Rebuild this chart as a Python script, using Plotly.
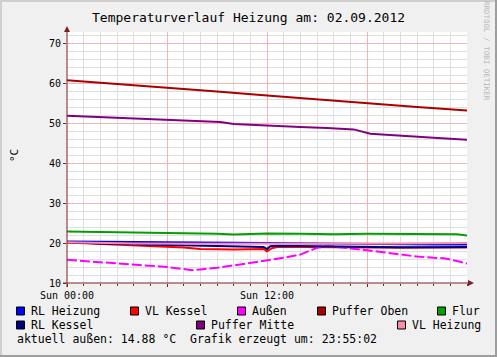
import plotly.graph_objects as go

# ---------------- data (hours since Sun 00:00) ----------------
title_text = "Temperaturverlauf Heizung am: 02.09.2012"
x_tickvals = [0, 6, 12, 18]
x_ticktext = ["Sun 00:00", "", "Sun 12:00", ""]
y_tickvals = [10, 20, 30, 40, 50, 60, 70]

rl_heizung_h = [0, 2, 4, 6, 8, 10, 12, 14, 16, 18, 20, 22, 24]
rl_heizung = [20.4, 20.3, 20.2, 20.1, 20.1, 20.05, 20.0, 19.9, 19.85, 19.75, 19.7, 19.65, 19.6]

vl_kessel_h = [0, 2, 4, 6, 7, 8, 10, 11.8, 12.0, 12.3, 12.6, 14, 16, 18, 20, 22, 24]
vl_kessel = [20.1, 19.8, 19.5, 19.2, 18.9, 18.5, 18.4, 18.5, 17.9, 18.7, 19.0, 19.0, 18.9, 18.8, 18.8, 18.9, 18.9]

aussen_h = [0, 1, 2, 3, 4, 5, 6, 7, 7.5, 8, 9, 10, 11, 12, 13, 14, 14.5, 15, 15.5, 16,
            16.5, 17, 18, 19, 20, 21, 22, 22.6, 23.4, 24]
aussen = [15.8, 15.5, 15.2, 14.9, 14.6, 14.3, 14.0, 13.5, 13.2, 13.4, 13.8, 14.4, 15.0, 15.7,
          16.3, 17.1, 18.0, 18.8, 19.1, 19.1, 18.9, 18.6, 18.2, 17.7, 17.1, 16.6, 16.3, 16.2, 15.5, 14.88]

puffer_oben_h = [0, 3, 6, 9, 12, 15, 18, 21, 24]
puffer_oben = [60.7, 59.8, 58.9, 57.9, 56.9, 55.9, 55.0, 54.0, 53.1]

flur_h = [0, 2, 4, 6, 8, 9, 10, 11, 12, 14, 16, 18, 20, 22, 23.4, 24]
flur = [22.9, 22.8, 22.7, 22.6, 22.5, 22.3, 22.1, 22.3, 22.4, 22.3, 22.2, 22.3, 22.3, 22.3, 22.2, 21.9]

rl_kessel_h = [0, 1, 2, 4, 6, 8, 10, 11.8, 12.0, 12.2, 12.5, 14, 16, 18, 20, 22, 24]
rl_kessel = [20.2, 20.0, 19.9, 19.7, 19.5, 19.2, 19.1, 19.0, 18.5, 19.2, 19.3, 19.2, 19.1, 19.0, 18.95, 18.95, 19.0]

puffer_mitte_h = [0, 3, 6, 8, 9.2, 10, 11.6, 14, 15.6, 17.2, 18.2, 20.6, 22, 24]
puffer_mitte = [51.8, 51.3, 50.8, 50.6, 50.25, 49.75, 49.4, 49.0, 48.75, 48.4, 47.3, 46.6, 46.3, 45.8]

vl_heizung_h = [0, 2, 4, 8, 12, 16, 20, 24]
vl_heizung = [20.2, 20.0, 19.9, 19.8, 19.8, 19.85, 19.9, 20.0]

series = [
    ("RL Heizung", rl_heizung_h, rl_heizung, "#0000ff", "solid"),
    ("VL Kessel", vl_kessel_h, vl_kessel, "#ff0000", "solid"),
    ("Außen", aussen_h, aussen, "#ff00ff", "10px,3px"),
    ("Puffer Oben", puffer_oben_h, puffer_oben, "#aa0000", "solid"),
    ("Flur", flur_h, flur, "#00a000", "solid"),
    ("RL Kessel", rl_kessel_h, rl_kessel, "#000080", "solid"),
    ("Puffer Mitte", puffer_mitte_h, puffer_mitte, "#800080", "solid"),
    ("VL Heizung", vl_heizung_h, vl_heizung, "#ff8aa8", "solid"),
]

footer_text = "aktuell außen: 14.88 °C  Grafik erzeugt um: 23:55:02"

# ---------------- layout geometry ----------------
WIDTH, HEIGHT = 497, 357
L, T, W, H = 67, 32, 400, 251
MONO = "DejaVu Sans Mono"
AXIS_COL = "#802020"


def PX(x):
    return (x - L) / W


def PY(y):
    return (T + H - y) / H


fig = go.Figure()
for name, hx, hy, col, dash in series:
    fig.add_trace(go.Scatter(x=hx, y=hy, mode="lines", name=name,
                             line=dict(color=col, width=2, dash=dash),
                             showlegend=False, hoverinfo="skip"))

shapes = []
annotations = []

# axes lines with arrows
shapes.append(dict(type="line", xref="paper", yref="paper", x0=PX(67), x1=PX(67),
                   y0=PY(287), y1=PY(30), line=dict(color=AXIS_COL, width=1)))
shapes.append(dict(type="line", xref="paper", yref="paper", x0=PX(63), x1=PX(471),
                   y0=PY(283), y1=PY(283), line=dict(color=AXIS_COL, width=1)))
shapes.append(dict(type="path", xref="paper", yref="paper",
                   path=f"M {PX(64)} {PY(32)} L {PX(70)} {PY(32)} L {PX(67)} {PY(26)} Z",
                   fillcolor=AXIS_COL, line=dict(width=0)))
shapes.append(dict(type="path", xref="paper", yref="paper",
                   path=f"M {PX(468)} {PY(280)} L {PX(468)} {PY(286)} L {PX(474)} {PY(283)} Z",
                   fillcolor=AXIS_COL, line=dict(width=0)))

# outer frame
shapes += [
    dict(type="rect", xref="paper", yref="paper", x0=PX(0), x1=PX(WIDTH), y0=PY(0), y1=PY(2),
         fillcolor="#cfcfcf", line=dict(width=0)),
    dict(type="rect", xref="paper", yref="paper", x0=PX(0), x1=PX(2), y0=PY(0), y1=PY(HEIGHT),
         fillcolor="#cfcfcf", line=dict(width=0)),
    dict(type="rect", xref="paper", yref="paper", x0=PX(0), x1=PX(WIDTH), y0=PY(HEIGHT - 2), y1=PY(HEIGHT),
         fillcolor="#9e9e9e", line=dict(width=0)),
    dict(type="rect", xref="paper", yref="paper", x0=PX(WIDTH - 2), x1=PX(WIDTH), y0=PY(0), y1=PY(HEIGHT),
         fillcolor="#9e9e9e", line=dict(width=0)),
]

# legend
legend_pos = [
    (16, 311), (130, 311), (237, 311), (317, 311), (437, 311),
    (16, 325), (196, 325), (397, 325),
]
for (name, hx, hy, col, dash), (lx, ly) in zip(series, legend_pos):
    shapes.append(dict(type="rect", xref="paper", yref="paper",
                       x0=PX(lx + 0.5), x1=PX(lx + 8.5), y0=PY(ly - 4), y1=PY(ly + 4),
                       fillcolor=col, line=dict(color="#000000", width=1)))
    annotations.append(dict(xref="paper", yref="paper", x=PX(lx + 13), y=PY(ly),
                            xanchor="left", yanchor="middle", showarrow=False, text=name,
                            font=dict(family=MONO, size=11.5, color="#000000")))

annotations.append(dict(xref="paper", yref="paper", x=PX(15), y=PY(339),
                        xanchor="left", yanchor="middle", showarrow=False, text=footer_text,
                        font=dict(family=MONO, size=11.5, color="#000000")))

# title
annotations.append(dict(xref="paper", yref="paper", x=PX(248.5), y=PY(17),
                        xanchor="center", yanchor="middle", showarrow=False, text=title_text,
                        font=dict(family=MONO, size=13, color="#000000")))
# y unit
annotations.append(dict(xref="paper", yref="paper", x=PX(14), y=PY(156),
                        xanchor="center", yanchor="middle", showarrow=False, text="°C",
                        textangle=-90, font=dict(family=MONO, size=11, color="#000000")))
# watermark
annotations.append(dict(xref="paper", yref="paper", x=PX(487), y=PY(51),
                        xanchor="center", yanchor="middle", showarrow=False,
                        text="RRDTOOL / TOBI OETIKER", textangle=90,
                        font=dict(family=MONO, size=7.5, color="#b8b8b8")))

fig.update_layout(
    width=WIDTH, height=HEIGHT,
    margin=dict(l=L, r=WIDTH - L - W, t=T, b=HEIGHT - T - H, pad=0),
    paper_bgcolor="#f0f0f0", plot_bgcolor="#ffffff",
    showlegend=False,
    shapes=shapes, annotations=annotations,
    xaxis=dict(range=[0, 24], tickmode="array", tickvals=x_tickvals, ticktext=x_ticktext,
               showgrid=True, gridcolor="#f6b4b4", gridwidth=1, zeroline=False,
               showline=False, ticks="outside", ticklen=3, tickcolor=AXIS_COL,
               tickfont=dict(family=MONO, size=10, color="#000000"),
               minor=dict(tickmode="linear", tick0=0, dtick=1, showgrid=True,
                          gridcolor="#dedede", gridwidth=1, ticks="outside", ticklen=2,
                          tickcolor=AXIS_COL),
               fixedrange=True),
    yaxis=dict(range=[10, 72.75], tickmode="array", tickvals=y_tickvals,
               showgrid=True, gridcolor="#f6b4b4", gridwidth=1, zeroline=False,
               showline=False, ticks="outside", ticklen=3, tickcolor=AXIS_COL,
               tickfont=dict(family=MONO, size=10, color="#000000"),
               minor=dict(tickmode="linear", tick0=10, dtick=2, showgrid=True,
                          gridcolor="#dedede", gridwidth=1, ticks=""),
               fixedrange=True),
)

fig.write_html("out.html")
